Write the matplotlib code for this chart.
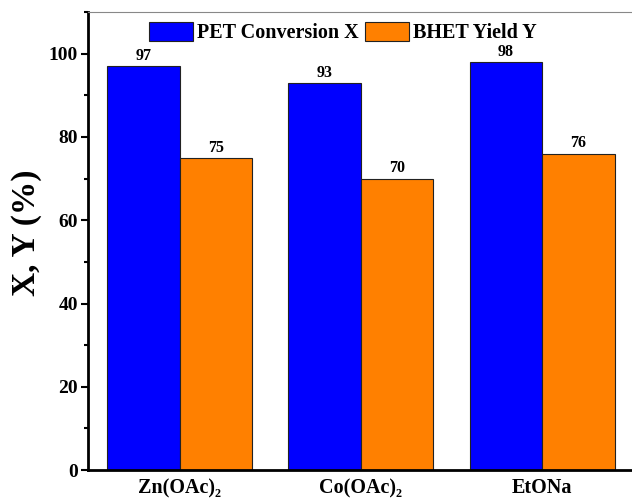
import matplotlib.pyplot as plt
import numpy as np

plt.rcParams['font.family'] = ['Liberation Serif', 'DejaVu Serif']
plt.rcParams['font.weight'] = 'bold'

catalysts = ['Zn(OAc)₂', 'Co(OAc)₂', 'EtONa']
conversion = [97, 93, 98]
bhet_yield = [75, 70, 76]

fig = plt.figure(figsize=(6.32, 4.98), dpi=100)
ax = fig.add_axes([0.139, 0.056, 0.862, 0.920])

x = np.arange(len(catalysts))
w = 0.4
b1 = ax.bar(x - w / 2, conversion, w, color='#0000ff', edgecolor='#222222',
            linewidth=0.8, label='PET Conversion X')
b2 = ax.bar(x + w / 2, bhet_yield, w, color='#ff8000', edgecolor='#222222',
            linewidth=0.8, label='BHET Yield Y')

for bars, vals in ((b1, conversion), (b2, bhet_yield)):
    for rect, v in zip(bars, vals):
        ax.text(rect.get_x() + rect.get_width() / 2, v + 0.5, str(v),
                ha='center', va='bottom', fontsize=11.5, fontweight='bold')

ax.set_xlim(-0.507, 2.5)
ax.set_ylim(0, 110)
ax.set_yticks([0, 20, 40, 60, 80, 100])
ax.set_yticks([10, 30, 50, 70, 90, 110], minor=True)
ax.set_xticks(x)
ax.set_xticklabels(catalysts, fontsize=14.5, fontweight='bold')
ax.tick_params(axis='x', length=0, pad=6)
ax.tick_params(axis='y', which='major', direction='out', length=5, width=1.5,
               labelsize=14, pad=2)
ax.tick_params(axis='y', which='minor', direction='out', length=3, width=1.5)
for lab in ax.get_yticklabels():
    lab.set_fontweight('bold')

fig.text(27 / 632, 1 - 233 / 498, 'X, Y (%)', rotation=90, ha='center',
         va='center', fontsize=24, fontweight='bold')

ax.spines['left'].set_linewidth(2)
ax.spines['bottom'].set_linewidth(2)
ax.spines['top'].set_linewidth(0.8)
ax.spines['top'].set_color('#888888')
ax.spines['right'].set_visible(False)

fig.legend(handles=[b1, b2], loc='upper left',
           bbox_to_anchor=(149 / 632, 1 - 22 / 498), ncol=2, frameon=False,
           borderpad=0, borderaxespad=0, handlelength=2.2, handleheight=1.05,
           columnspacing=0.3, handletextpad=0.2,
           prop={'weight': 'bold', 'size': 14.5})

fig.savefig('out.png', dpi=100)
